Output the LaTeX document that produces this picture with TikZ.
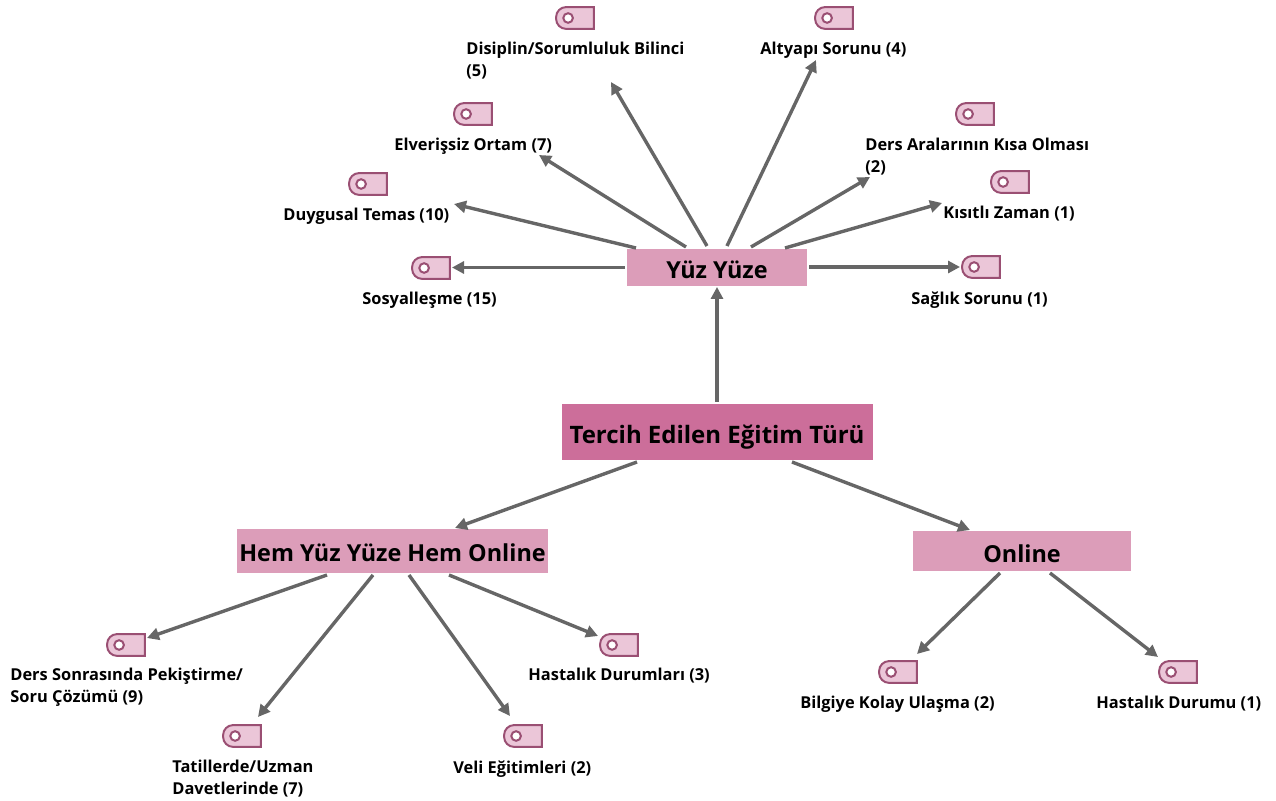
\documentclass[tikz,border=0pt]{standalone}
\usepackage{fontspec}
\setmainfont{Open Sans}
\usetikzlibrary{arrows.meta,calc}
\definecolor{mainpink}{HTML}{CC6E9A}
\definecolor{subpink}{HTML}{DC9DB9}
\definecolor{tagfill}{HTML}{EBC6D8}
\definecolor{tagedge}{HTML}{9A4F73}
\definecolor{arrowgray}{HTML}{666666}
\tikzset{
  x=0.5pt,y=-0.5pt,
  mainbox/.style={fill=mainpink,inner sep=0pt,font=\fontsize{12}{14}\bfseries,text height=12pt,text depth=0pt},
  subbox/.style={fill=subpink,inner sep=0pt,font=\fontsize{11.7}{14}\bfseries},
  conn/.style={draw=arrowgray,line width=1.7pt,-{Triangle[length=6pt,width=6pt]}},
  lab/.style={anchor=north west,inner sep=0pt,align=left,font=\fontsize{8.2}{11}\bfseries},
  tagnode/.style={inner sep=0pt,minimum width=18.5pt,minimum height=10.5pt},
  tagline/.style={draw=tagedge,fill=tagfill,line width=1pt},
  holeline/.style={draw=tagedge,fill=white,line width=1pt}
}
\newcommand{\tagicon}[3]{%
  \node[tagnode] (#1) at (#2+19,#3+11) {};
  \draw[tagline] (#1.north east) [rounded corners=5pt] -- (#1.north west) -- (#1.south west) [sharp corners] -- (#1.south east) -- cycle;
  \draw[holeline] ($(#1.west)+(12,0)$) circle (2.4pt);
}
\begin{document}
\begin{tikzpicture}
\useasboundingbox (0,0) rectangle (1276,801);
\node[mainbox,minimum width=155.5pt,minimum height=28pt] (main) at (717,432) {Tercih Edilen Eğitim Türü};
\node[subbox,minimum width=90pt,minimum height=18.5pt,text height=14pt,text depth=2.5pt] (yy) at (717,267.5) {Yüz Yüze};
\node[subbox,minimum width=155.5pt,minimum height=22pt,text height=13.5pt,text depth=2.5pt] (hem) at (392.5,551) {Hem Yüz Yüze Hem Online};
\node[subbox,minimum width=109pt,minimum height=20pt,text height=14.5pt,text depth=2.5pt] (on) at (1022,551) {Online};
\tagicon{t1}{412}{257}
\tagicon{t2}{349}{173}
\tagicon{t3}{454}{103}
\tagicon{t4}{556}{7}
\tagicon{t5}{815}{7}
\tagicon{t6}{956}{103}
\tagicon{t7}{991}{171}
\tagicon{t8}{962}{256}
\tagicon{t9}{107}{634}
\tagicon{t10}{223}{725}
\tagicon{t11}{504}{725}
\tagicon{t12}{600}{634}
\tagicon{t13}{879}{661}
\tagicon{t14}{1159}{661}
\node[lab] (l1) at (362,292) {Sosyalleşme (15)};
\node[lab] (l2) at (283,208) {Duygusal Temas (10)};
\node[lab] (l3) at (394,138) {Elverişsiz Ortam (7)};
\node[lab] (l4) at (466,42) {Disiplin/Sorumluluk Bilinci\\(5)};
\node[lab] (l5) at (760,42) {Altyapı Sorunu (4)};
\node[lab] (l6) at (865,138) {Ders Aralarının Kısa Olması\\(2)};
\node[lab] (l7) at (943,206) {Kısıtlı Zaman (1)};
\node[lab] (l8) at (911,291) {Sağlık Sorunu (1)};
\node[lab] (l9) at (10,668) {Ders Sonrasında Pekiştirme/\\Soru Çözümü (9)};
\node[lab] (l10) at (172,760) {Tatillerde/Uzman\\Davetlerinde (7)};
\node[lab] (l11) at (453,760) {Veli Eğitimleri (2)};
\node[lab] (l12) at (528,668) {Hastalık Durumları (3)};
\node[lab] (l13) at (800,696) {Bilgiye Kolay Ulaşma (2)};
\node[lab] (l14) at (1096,696) {Hastalık Durumu (1)};
\coordinate (m0) at (717,402); \coordinate (y0) at (717,287);
\coordinate (m1) at (637,462); \coordinate (h0) at (455,528);
\coordinate (m2) at (792,462); \coordinate (o0) at (970,530);
\draw[conn] (m0) -- (y0);
\draw[conn] (m1) -- (h0);
\draw[conn] (m2) -- (o0);
\coordinate (a1) at (625,267.5); \coordinate (b1) at (452,267.5);
\coordinate (a2) at (636,248); \coordinate (b2) at (454,204);
\coordinate (a3) at (686,247); \coordinate (b3) at (539,155);
\coordinate (a4) at (707,246); \coordinate (b4) at (611,82);
\coordinate (a5) at (727,246); \coordinate (b5) at (816,60);
\coordinate (a6) at (751,247); \coordinate (b6) at (870,177);
\coordinate (a7) at (785,248); \coordinate (b7) at (942,203);
\coordinate (a8) at (809,267); \coordinate (b8) at (960,267);
\coordinate (a9) at (327,575); \coordinate (b9) at (147,638);
\coordinate (a10) at (373,575); \coordinate (b10) at (258,717);
\coordinate (a11) at (409,575); \coordinate (b11) at (510,716);
\coordinate (a12) at (449,575); \coordinate (b12) at (598,636);
\coordinate (a13) at (1000,573); \coordinate (b13) at (917,654);
\coordinate (a14) at (1050,573); \coordinate (b14) at (1158,657);
\foreach \i in {1,...,14} {\draw[conn] (a\i) -- (b\i);}
\end{tikzpicture}
\end{document}
